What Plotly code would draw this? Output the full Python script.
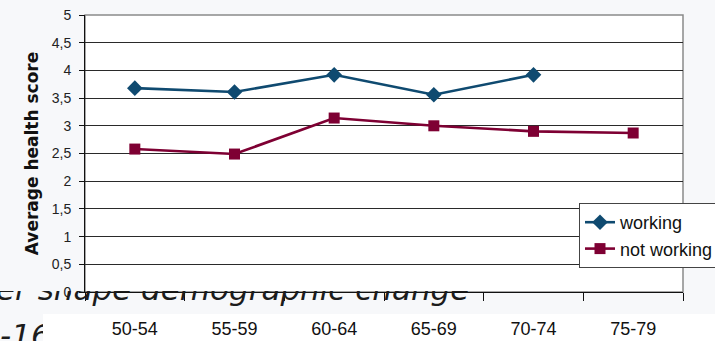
import plotly.graph_objects as go

# page size in px, used to place subplots / decorations
W, H = 715, 341

age_groups = ["50-54", "55-59", "60-64", "65-69", "70-74", "75-79"]
working = [3.68, 3.61, 3.92, 3.56, 3.92, None]
not_working = [2.58, 2.49, 3.14, 3.0, 2.9, 2.87]
y_ticks = [0, 0.5, 1, 1.5, 2, 2.5, 3, 3.5, 4, 4.5, 5]

BLUE = "#0f4a70"
MAROON = "#7e0033"


def px(x):
    return x / W


def py(y):
    return 1 - y / H


fig = go.Figure()
fig.add_trace(go.Scatter(
    x=age_groups, y=working, name="working", mode="lines+markers",
    line={"color": BLUE, "width": 2.6},
    marker={"symbol": "diamond", "size": 12, "color": BLUE},
    legendgroup="a", xaxis="x", yaxis="y",
))
fig.add_trace(go.Scatter(
    x=age_groups, y=not_working, name="not working", mode="lines+markers",
    line={"color": MAROON, "width": 2.6},
    marker={"symbol": "square", "size": 11, "color": MAROON},
    legendgroup="b", xaxis="x", yaxis="y",
))

# slide text peeking out behind the chart (clipped by its own subplot)
slide_font = {"family": "DejaVu Sans", "size": 31, "color": "#1c1c1c", "style": "italic"}
fig.add_trace(go.Scatter(
    x=[-4], y=[292], mode="text", text=["er shape demographic change"],
    textposition="middle right", textfont=slide_font,
    showlegend=False, hoverinfo="skip", xaxis="x2", yaxis="y2",
))
fig.add_trace(go.Scatter(
    x=[0], y=[338], mode="text", text=["-16"],
    textposition="middle right", textfont=slide_font,
    showlegend=False, hoverinfo="skip", xaxis="x3", yaxis="y3",
))

fig.update_layout(
    width=W, height=H,
    margin={"l": 0, "r": 0, "t": 0, "b": 0, "autoexpand": False},
    paper_bgcolor="#f7f8fa",
    plot_bgcolor="rgba(0,0,0,0)",
    separators=", ",
    font={"family": "Liberation Sans, Arial", "color": "#1a1a1a"},
    xaxis={
        "domain": [px(85), px(683)], "type": "category", "range": [-0.5, 5.5],
        "showgrid": False, "showline": True, "linecolor": "#111", "linewidth": 1,
        "ticks": "outside", "tickson": "boundaries", "ticklen": 8, "tickcolor": "#111",
        "ticklabelstandoff": 20, "tickfont": {"size": 18, "color": "#111"},
        "automargin": False, "fixedrange": True,
    },
    yaxis={
        "domain": [py(292), py(15)], "range": [0, 5], "tickvals": y_ticks,
        "showgrid": True, "gridcolor": "#2a2a2a", "gridwidth": 1,
        "showline": True, "linecolor": "#111", "linewidth": 1, "zeroline": False,
        "ticks": "outside", "ticklen": 5, "tickcolor": "#111", "ticklabelstandoff": 5,
        "tickfont": {"size": 14, "color": "#222"},
        "title": {"text": "Average health score", "standoff": 8,
                  "font": {"family": "DejaVu Sans", "size": 17, "weight": "bold", "color": "#111"}},
        "automargin": False, "fixedrange": True,
    },
    xaxis2={"domain": [0, 1], "range": [0, W], "visible": False, "fixedrange": True},
    yaxis2={"domain": [py(314), py(291)], "range": [314, 291], "visible": False, "fixedrange": True},
    xaxis3={"domain": [0, px(43)], "range": [0, 43], "visible": False, "fixedrange": True},
    yaxis3={"domain": [0, py(314)], "range": [341, 314], "visible": False, "fixedrange": True},
    legend={
        "xref": "container", "yref": "container",
        "x": px(579), "y": py(203), "xanchor": "left", "yanchor": "top",
        "bgcolor": "white", "bordercolor": "#444", "borderwidth": 1,
        "font": {"size": 18, "color": "#111"}, "tracegroupgap": 0,
    },
    shapes=[
        # white plot area with grey frame
        {"type": "rect", "xref": "paper", "yref": "paper", "layer": "below",
         "x0": px(85), "x1": px(683), "y0": py(292), "y1": py(15),
         "fillcolor": "white", "line": {"color": "#8a8a8a", "width": 1.5}},
        # white strip behind the category labels
        {"type": "rect", "xref": "paper", "yref": "paper", "layer": "below",
         "x0": px(43), "x1": 1, "y0": 0, "y1": py(314),
         "fillcolor": "white", "line": {"width": 0}},
    ],
)

# drop the browser's default 8px body margin so the figure sits at (0, 0)
fig.write_html(
    "out.html",
    config={"displayModeBar": False},
    post_script="document.body.style.margin='0';document.body.style.overflow='hidden';",
)
